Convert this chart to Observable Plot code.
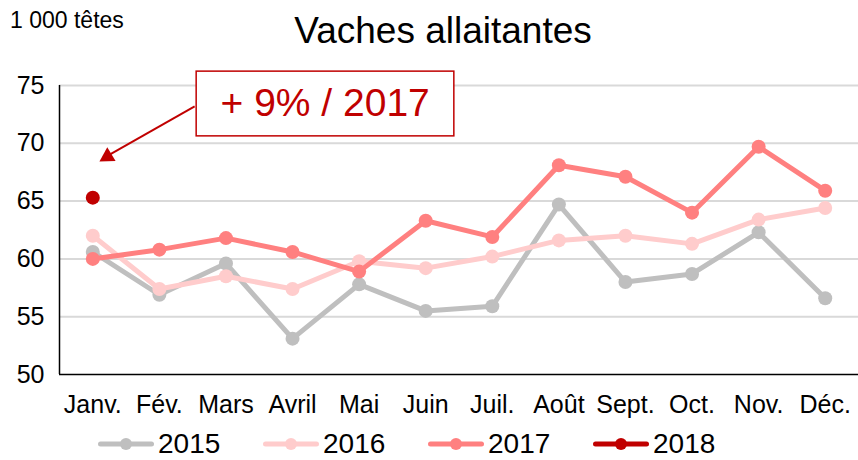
<!DOCTYPE html>
<html>
<head>
<meta charset="utf-8">
<script src="https://cdn.jsdelivr.net/npm/d3@7"></script>
<script src="https://cdn.jsdelivr.net/npm/@observablehq/plot@0.6"></script>
<style>
  body { margin: 0; background: #fff; font-family: "Liberation Sans", Arial, sans-serif; }
  #wrap { position: relative; width: 858px; height: 460px; overflow: hidden; background: #fff; }
  #unit { position: absolute; left: 10px; top: 6px; font-size: 23px; line-height: 28px; color: #000; }
  #title { position: absolute; left: 443px; top: 9px; transform: translateX(-50%); font-size: 37px; line-height: 44px; color: #000; white-space: nowrap; }
  #chart { position: absolute; left: 0; top: 0; }
  #legend { position: absolute; left: 0; top: 431px; height: 26px; width: 858px; }
  .item { position: absolute; top: 0; height: 26px; line-height: 26px; display: flex; align-items: center; font-size: 28px; color: #000; white-space: nowrap; }
  .item svg { margin-right: 4px; }
</style>
</head>
<body>
<div id="wrap">
  <div id="chart"></div>
  <div id="unit"></div>
  <div id="title"></div>
  <div id="legend"></div>
</div>
<script>
// ---- data ----
const titleText = "Vaches allaitantes";
const unitText = "1 000 têtes";
const months = ["Janv.", "Fév.", "Mars", "Avril", "Mai", "Juin", "Juil.", "Août", "Sept.", "Oct.", "Nov.", "Déc."];
const years = ["2015", "2016", "2017", "2018"];
const v2015 = [60.6, 56.9, 59.6, 53.1, 57.8, 55.5, 55.9, 64.7, 58.0, 58.7, 62.3, 56.6];
const v2016 = [62.0, 57.4, 58.5, 57.4, 59.8, 59.2, 60.2, 61.6, 62.0, 61.3, 63.4, 64.4];
const v2017 = [60.0, 60.8, 61.8, 60.6, 58.9, 63.3, 61.9, 68.1, 67.1, 64.0, 69.7, 65.9];
const v2018 = [65.3];
const colors = ["#bfbfbf", "#ffcccc", "#ff8080", "#c00000"];
const yTicks = [50, 55, 60, 65, 70, 75];
const annotationText = "+ 9% / 2017";
// annotation anchors in data units (month index, value)
const annoBox = [1.56, 5.43, 70.6, 76.2];      // x1, x2, y1, y2
const annoTextPos = [3.49, 73.4];
const arrowFrom = [1.53, 73.2];
const arrowTo = [0.2, 68.85];
const arrowHead = [0.22, 68.85];
const arrowAngle = -121;

// ---- build table ----
const seriesValues = [v2015, v2016, v2017, v2018];
const rows = [];
years.forEach((y, k) => seriesValues[k].forEach((v, i) => rows.push({year: y, i, v})));

document.getElementById("title").textContent = titleText;
document.getElementById("unit").textContent = unitText;

const color = {domain: years, range: colors};
const marks = [
  Plot.gridY(yTicks.filter(d => d > 50), {stroke: "#d9d9d9", strokeOpacity: 1, strokeWidth: 2}),
  Plot.ruleX([-0.5], {stroke: "#000", strokeWidth: 1.5}),
  Plot.ruleY([50], {stroke: "#000", strokeWidth: 1.5}),
  Plot.axisY({ticks: yTicks, tickSize: 0, tickPadding: 15, fontSize: 25, label: null}),
  Plot.axisX({ticks: d3.range(months.length), tickFormat: i => months[i], tickSize: 0, tickPadding: 21, fontSize: 25, label: null})
];
years.forEach(y => {
  const d = rows.filter(r => r.year === y);
  marks.push(Plot.line(d, {x: "i", y: "v", stroke: "year", strokeWidth: 5, strokeLinejoin: "round", strokeLinecap: "round"}));
  marks.push(Plot.dot(d, {x: "i", y: "v", fill: "year", r: 7}));
});
// annotation
marks.push(Plot.rect([annoBox], {x1: d => d[0], x2: d => d[1], y1: d => d[2], y2: d => d[3], fill: "#fff", stroke: "#c00000", strokeWidth: 1.5}));
marks.push(Plot.text([annotationText], {x: annoTextPos[0], y: annoTextPos[1], text: d => d, fill: "#c00000", fontSize: 39}));
marks.push(Plot.link([0], {x1: arrowFrom[0], y1: arrowFrom[1], x2: arrowTo[0], y2: arrowTo[1], stroke: "#c00000", strokeWidth: 2}));
marks.push(Plot.dot([0], {x: arrowHead[0], y: arrowHead[1], symbol: "triangle", r: 6, fill: "#c00000"}));

const plot = Plot.plot({
  width: 858,
  height: 460,
  marginTop: 85,
  marginBottom: 86,
  marginLeft: 59,
  marginRight: 0,
  style: {fontFamily: "Liberation Sans, Arial, sans-serif", background: "transparent", color: "#000", overflow: "visible"},
  x: {type: "linear", domain: [-0.5, 11.5], axis: null},
  y: {domain: [50, 75], axis: null},
  color,
  marks
});
document.getElementById("chart").appendChild(plot);

// rotate the arrowhead triangle (last dot mark) toward the 2018 point
const dotGroups = plot.querySelectorAll('g[aria-label="dot"]');
const head = dotGroups[dotGroups.length - 1].querySelector("path");
if (head) {
  const t = head.getAttribute("transform") || "";
  head.setAttribute("transform", t + ` rotate(${arrowAngle})`);
}

// legend
const legend = d3.select("#legend");
const starts = [98, 263, 428, 593];
years.forEach((y, k) => {
  const item = legend.append("div").attr("class", "item").style("left", starts[k] + "px");
  const s = item.append("svg").attr("width", 56).attr("height", 20);
  s.append("line").attr("x1", 2.5).attr("x2", 53.5).attr("y1", 10).attr("y2", 10)
    .attr("stroke", colors[k]).attr("stroke-width", 5).attr("stroke-linecap", "round");
  s.append("circle").attr("cx", 28).attr("cy", 10).attr("r", 6).attr("fill", colors[k]);
  item.append("span").text(y);
});
</script>
</body>
</html>
